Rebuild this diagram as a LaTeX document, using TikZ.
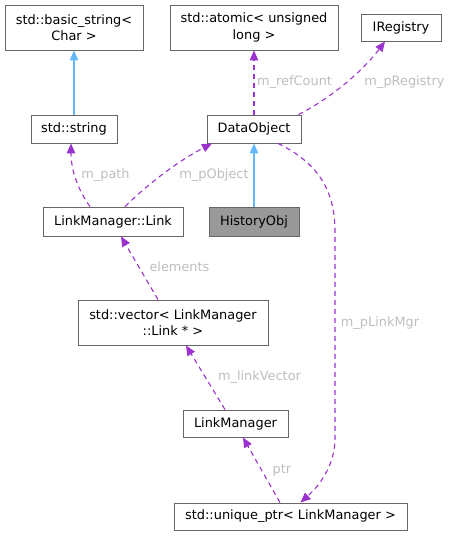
\documentclass[tikz,border=0pt]{standalone}
\usepackage{fontspec}
\setmainfont{DejaVu Sans}
\usetikzlibrary{arrows.meta}
\definecolor{boxborder}{HTML}{666666}
\definecolor{histfill}{HTML}{999999}
\definecolor{usecol}{HTML}{9A32CD}
\definecolor{inhcol}{HTML}{63B8FF}
\definecolor{lblcol}{HTML}{BEBEBE}
\tikzset{
  cls/.style={draw=boxborder, line width=0.9pt, fill=white, inner sep=0pt, align=center,
    font=\fontsize{12.9}{16.5}\selectfont},
  inh/.style={draw=inhcol, line width=1.1pt, -{Triangle[length=10pt,width=8.5pt]}},
  use/.style={draw=usecol, line width=1.1pt, dash pattern=on 5pt off 4pt, -{Triangle[length=10pt,width=8.5pt]}},
  lbl/.style={text=lblcol, inner sep=0pt, font=\fontsize{12.9}{15}\selectfont},
}
\begin{document}
\begin{tikzpicture}[x=1pt,y=-1pt]
\useasboundingbox (0,0) rectangle (451,536);
% nodes
\node[cls, minimum width=138pt, minimum height=45pt] (bs) at (74,27.5) {std::basic\_string<\\Char >};
\node[cls, minimum width=168pt, minimum height=45pt] (atom) at (254,27.5) {std::atomic< unsigned\\long >};
\node[cls, minimum width=80pt, minimum height=27pt] (ireg) at (401,27.5) {IRegistry};
\node[cls, minimum width=86pt, minimum height=28pt] (str) at (74,129) {std::string};
\node[cls, minimum width=94pt, minimum height=28pt] (dobj) at (254,129) {DataObject};
\node[cls, minimum width=140pt, minimum height=29pt] (link) at (113,221.5) {LinkManager::Link};
\node[cls, fill=histfill, minimum width=90pt, minimum height=29pt] (hist) at (254,221.5) {HistoryObj};
\node[cls, minimum width=190pt, minimum height=45pt] (vec) at (173,322.5) {std::vector< LinkManager\\::Link * >};
\node[cls, minimum width=105pt, minimum height=27pt] (lm) at (235.5,423.5) {LinkManager};
\node[cls, minimum width=233pt, minimum height=27pt] (up) at (290.5,516.5) {std::unique\_ptr< LinkManager >};
% inheritance
\draw[inh] (str.north) -- (bs.south);
\draw[inh] (hist.north) -- (dobj.south);
% usage
\draw[use] (dobj.north) -- (atom.south);
\node[lbl, anchor=west] (lrc) at (257,82) {m\_refCount};
\draw[use] ([xshift=-3pt]dobj.north east) .. controls (335,96) and (365,68) .. ([xshift=-16pt]ireg.south);
\node[lbl] (lreg) at (404.5,82) {m\_pRegistry};
\draw[use] ([xshift=-23pt]link.north) .. controls (78,190) and (71,170) .. ([xshift=-3pt]str.south);
\node[lbl] (lpath) at (105.5,175) {m\_path};
\draw[use] ([xshift=12pt]link.north) .. controls (150,182) and (180,160) .. ([xshift=-42pt]dobj.south);
\node[lbl] (lobj) at (214,175) {m\_pObject};
\draw[use] ([xshift=-15pt]vec.north) -- ([xshift=8pt]link.south);
\node[lbl] (lel) at (179.5,267) {elements};
\draw[use] ([xshift=-10.5pt]lm.north) -- ([xshift=13pt]vec.south);
\node[lbl] (llv) at (259.5,377) {m\_linkVector};
\draw[use] ([xshift=-10.5pt]up.north) -- ([xshift=7.5pt]lm.south);
\node[lbl] (lptr) at (282,470) {ptr};
\draw[use] ([xshift=24pt]dobj.south) .. controls (318,163) and (335,190) .. (335,232) -- (335,438) .. controls (335,465) and (320,485) .. ([xshift=10pt]up.north);
\node[lbl] (lmgr) at (380,323) {m\_pLinkMgr};
\end{tikzpicture}
\end{document}
